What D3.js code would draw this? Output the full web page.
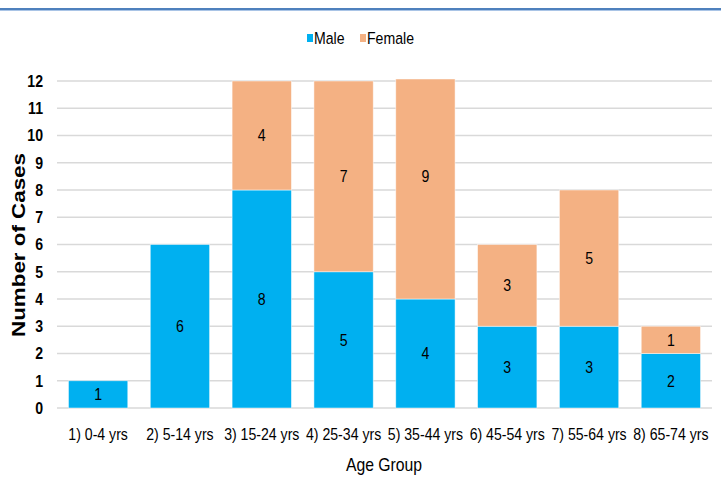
<!DOCTYPE html>
<html>
<head>
<meta charset="utf-8">
<script src="https://cdn.jsdelivr.net/npm/d3@7"></script>
<style>
	body { margin: 0; background: #fff; }
	text { font-family: "Liberation Sans Narrow", "Arial Narrow", "Liberation Sans", sans-serif; }
</style>
</head>
<body>
<div id="container"></div>
<script>
// chart data
const ageGroups = ['1) 0-4 yrs', '2) 5-14 yrs', '3) 15-24 yrs', '4) 25-34 yrs', '5) 35-44 yrs', '6) 45-54 yrs', '7) 55-64 yrs', '8) 65-74 yrs'];
const maleCases = [1, 6, 8, 5, 4, 3, 3, 2];
const femaleCases = [0, 0, 4, 7, 9, 3, 5, 1];
const yTicks = [0, 1, 2, 3, 4, 5, 6, 7, 8, 9, 10, 11, 12];
const seriesNames = ['Male', 'Female'];
const seriesColors = ['#00b0f0', '#f4b183'];

let options = {
	width: 721,
	height: 495,
	left: 57,
	right: 712,
	top: 81,
	bottom: 408,
	narrow: 0.83
};

let svg = d3.select('#container')
	.append('svg')
	.attr('width', options.width)
	.attr('height', options.height);

// no narrow font installed, so squeeze the glyphs horizontally
function place(x, y) {
	return 'translate(' + x + ',' + y + ') scale(' + options.narrow + ',1)';
}

// top rule
svg.append('rect').attr('x', 0).attr('y', 8).attr('width', options.width).attr('height', 2).attr('fill', '#4f81bd');
svg.append('rect').attr('x', 0).attr('y', 10).attr('width', options.width).attr('height', 1).attr('fill', '#a9c4e6');

let x = d3.scaleBand().domain(ageGroups).range([options.left, options.right]).paddingInner(0.275).paddingOuter(0.14);
let y = d3.scaleLinear().domain([0, 12]).range([options.bottom, options.top]);

// gridlines
svg.append('g')
	.selectAll('line')
	.data(yTicks)
	.enter()
	.append('line')
	.attr('x1', options.left)
	.attr('x2', options.right)
	.attr('y1', d => y(d))
	.attr('y2', d => y(d))
	.attr('stroke', '#d9d9d9')
	.attr('stroke-width', 1.3);

// stacked segments
let stackData = ageGroups.map((g, i) => ({ group: g, Male: maleCases[i], Female: femaleCases[i] }));
let stacked = d3.stack().keys(seriesNames)(stackData);
let clipTop = y(12) - 2;

stacked.forEach((layer, k) => {
	let g = svg.append('g');
	let segs = layer.map((d, i) => ({ y0: d[0], y1: d[1], group: ageGroups[i], value: d[1] - d[0] })).filter(d => d.value > 0);
	g.selectAll('rect')
		.data(segs)
		.enter()
		.append('rect')
		.attr('x', d => x(d.group))
		.attr('width', x.bandwidth())
		.attr('y', d => Math.max(y(d.y1), clipTop))
		.attr('height', d => y(d.y0) - Math.max(y(d.y1), clipTop))
		.attr('fill', seriesColors[k])
		.attr('stroke', '#ffffff')
		.attr('stroke-opacity', 0.6)
		.attr('stroke-width', 0.8);
	g.selectAll('text')
		.data(segs)
		.enter()
		.append('text')
		.attr('transform', d => place(x(d.group) + x.bandwidth() / 2, y((d.y0 + d.y1) / 2)))
		.attr('dy', '0.35em')
		.attr('text-anchor', 'middle')
		.attr('font-size', 17)
		.attr('fill', '#000')
		.text(d => d.value);
});

// y axis labels
svg.append('g')
	.selectAll('text')
	.data(yTicks)
	.enter()
	.append('text')
	.attr('transform', d => place(43, y(d)))
	.attr('dy', '0.35em')
	.attr('text-anchor', 'end')
	.attr('font-size', 17)
	.attr('font-weight', 'bold')
	.attr('fill', '#000')
	.text(d => d);

// x axis labels
svg.append('g')
	.selectAll('text')
	.data(ageGroups)
	.enter()
	.append('text')
	.attr('transform', d => place(x(d) + x.bandwidth() / 2, 434))
	.attr('dy', '0.35em')
	.attr('text-anchor', 'middle')
	.attr('font-size', 17)
	.attr('fill', '#000')
	.text(d => d);

svg.append('text')
	.attr('transform', place(384, 464))
	.attr('dy', '0.35em')
	.attr('text-anchor', 'middle')
	.attr('font-size', 19)
	.attr('fill', '#000')
	.text('Age Group');

svg.append('text')
	.attr('transform', 'translate(18,245) rotate(-90)')
	.attr('dy', '0.36em')
	.attr('text-anchor', 'middle')
	.attr('font-size', 19)
	.attr('font-weight', 'bold')
	.attr('font-family', 'Liberation Sans, Arial, sans-serif')
	.attr('textLength', 184)
	.attr('lengthAdjust', 'spacingAndGlyphs')
	.attr('fill', '#000')
	.text('Number of Cases');

// legend
let legendX = [307, 360];
let legend = svg.append('g');
seriesNames.forEach((name, i) => {
	legend.append('rect')
		.attr('x', legendX[i])
		.attr('y', 34)
		.attr('width', 6)
		.attr('height', 8)
		.attr('fill', seriesColors[i]);
	legend.append('text')
		.attr('transform', place(legendX[i] + 7, 38))
		.attr('dy', '0.35em')
		.attr('font-size', 17)
		.attr('fill', '#000')
		.text(name);
});
</script>
</body>
</html>
